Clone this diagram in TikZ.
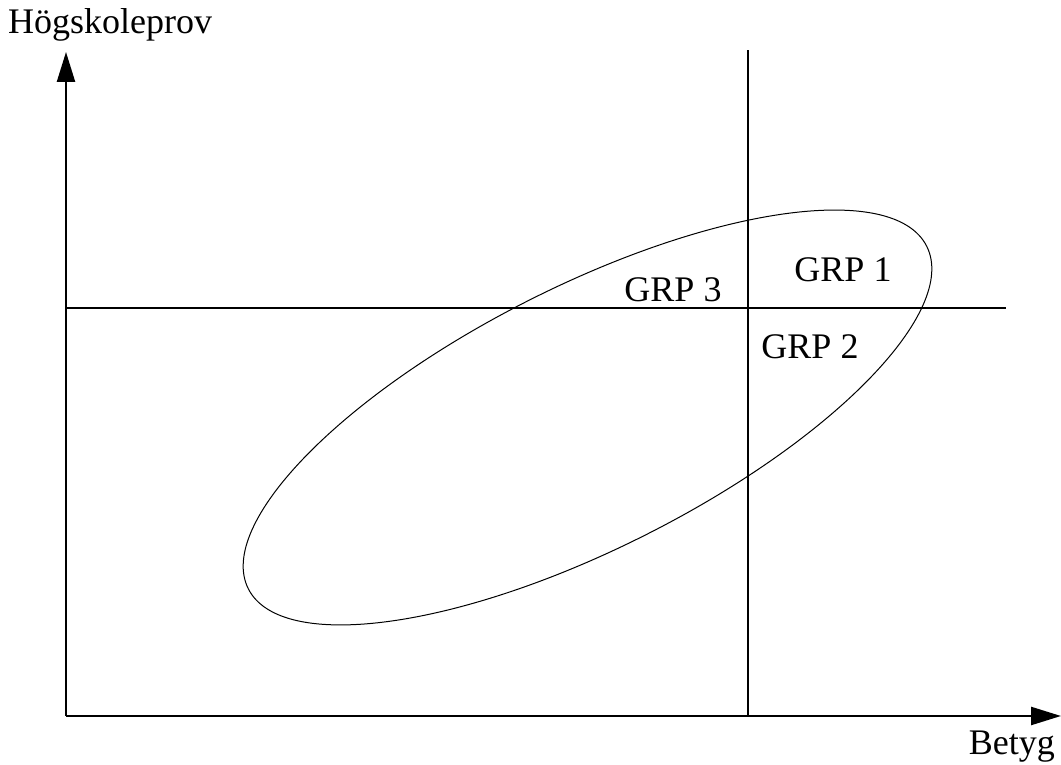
\documentclass[tikz,border=0pt]{standalone}
\usepackage{fontspec}
\setmainfont{Liberation Serif}
\usepackage{tikz}
\usetikzlibrary{positioning, arrows.meta}

\begin{document}
\begin{tikzpicture}[x=1pt, y=1pt, >={Triangle[length=30pt, width=18pt]},
    axis/.style={line width=2.4pt},
    grid/.style={line width=1.8pt},
    lbl/.style={font=\fontsize{36}{42}\selectfont, inner sep=0pt}]
    \useasboundingbox (0,0) rectangle (1061,765);

    \coordinate (o) at (66,49);
    \coordinate (ytop) at (66,713);
    \coordinate (xend) at (1061,49);
    \coordinate (vtop) at (748,715);
    \coordinate (vbot) at (748,49);
    \coordinate (hleft) at (66,457);
    \coordinate (hright) at (1006,457);

    \node [lbl, anchor=west] (hp) at (8,740) {Högskoleprov};
    \node [lbl, anchor=east] (betyg) at (1055,18) {Betyg};

    \draw [axis, ->] (o) -- (ytop);
    \draw [axis, ->] (o) -- (xend);
    \draw [grid] (vbot) -- (vtop);
    \draw [grid] (hleft) -- (hright);

    % the ellipse
    \draw [line width=1pt, rotate around={26.8:(587.5,347.5)}]
        (587.5,347.5) ellipse [x radius=380, y radius=131];

    \node [lbl] (g1) at (843,495) {GRP 1};
    \node [lbl] (g3) at (673,475) {GRP 3};
    \node [lbl] (g2) at (810,418) {GRP 2};
\end{tikzpicture}
\end{document}
